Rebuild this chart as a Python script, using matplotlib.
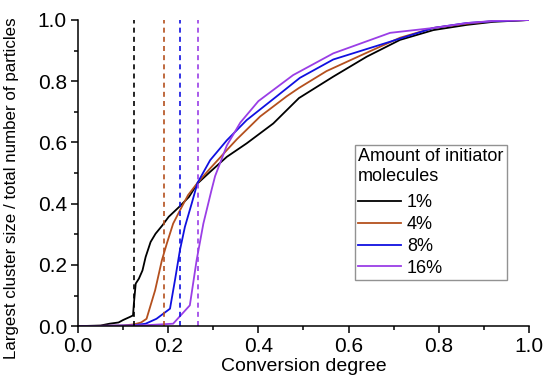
import matplotlib
matplotlib.use('Agg')
import matplotlib.pyplot as plt
from matplotlib.ticker import MultipleLocator

plt.rcParams['font.family'] = ['Liberation Sans', 'DejaVu Sans']

# 1% initiator
x_1 = [0, 0.05, 0.07, 0.09, 0.10, 0.115, 0.122, 0.124, 0.128, 0.135, 0.143, 0.150,
       0.161, 0.172, 0.187, 0.201, 0.224, 0.246, 0.265, 0.293, 0.330, 0.374, 0.433,
       0.49, 0.566, 0.640, 0.714, 0.788, 0.862, 0.921, 1.0]
y_1 = [0, 0.002, 0.008, 0.012, 0.02, 0.03, 0.035, 0.075, 0.139, 0.155, 0.182, 0.226,
       0.275, 0.302, 0.329, 0.357, 0.389, 0.422, 0.466, 0.504, 0.553, 0.597, 0.662,
       0.745, 0.815, 0.880, 0.935, 0.967, 0.984, 0.994, 1.0]

# 4%
x_4 = [0, 0.10, 0.125, 0.14, 0.152, 0.171, 0.186, 0.197, 0.211, 0.226, 0.244, 0.265,
       0.293, 0.330, 0.352, 0.404, 0.463, 0.49, 0.551, 0.640, 0.714, 0.788, 0.862,
       0.921, 1.0]
y_4 = [0, 0.002, 0.006, 0.012, 0.024, 0.117, 0.215, 0.27, 0.335, 0.378, 0.428, 0.468,
       0.515, 0.575, 0.61, 0.685, 0.751, 0.778, 0.833, 0.893, 0.942, 0.974, 0.988,
       0.996, 1.0]

# 8%
x_8 = [0, 0.12, 0.15, 0.174, 0.204, 0.215, 0.226, 0.237, 0.252, 0.265, 0.293, 0.330,
       0.374, 0.44, 0.492, 0.566, 0.692, 0.788, 0.862, 0.921, 1.0]
y_8 = [0, 0.002, 0.008, 0.024, 0.057, 0.15, 0.248, 0.324, 0.40, 0.468, 0.542, 0.607,
       0.673, 0.75, 0.811, 0.871, 0.929, 0.974, 0.99, 0.996, 1.0]

# 16%
x_16 = [0, 0.15, 0.211, 0.248, 0.263, 0.278, 0.296, 0.304, 0.33, 0.36, 0.40, 0.477,
        0.566, 0.692, 0.788, 0.862, 0.921, 1.0]
y_16 = [0, 0.003, 0.008, 0.068, 0.215, 0.335, 0.444, 0.49, 0.59, 0.665, 0.735, 0.82,
        0.891, 0.958, 0.974, 0.99, 0.997, 1.0]

labels = ['1%', '4%', '8%', '16%']
colors = ['black', '#b4501e', '#1010e0', '#9a3ee6']
# gel points (dashed markers)
gel_x = [0.124, 0.19, 0.227, 0.265]

fig = plt.figure(figsize=(5.5, 3.92), dpi=100)
ax = fig.add_axes([0.1418, 0.168, 0.82, 0.781])

series = [(x_1, y_1), (x_4, y_4), (x_8, y_8), (x_16, y_16)]
for (xs, ys), lab, c in zip(series, labels, colors):
    ax.plot(xs, ys, color=c, lw=1.3, label=lab)

for gx, c in zip(gel_x, colors):
    ax.axvline(gx, color=c, lw=1.2, ls=(0, (3, 2.5)))

ax.set_xlim(0, 1)
ax.set_ylim(0, 1)
ax.xaxis.set_major_locator(MultipleLocator(0.2))
ax.xaxis.set_minor_locator(MultipleLocator(0.1))
ax.yaxis.set_major_locator(MultipleLocator(0.2))
ax.yaxis.set_minor_locator(MultipleLocator(0.1))
ax.spines['top'].set_visible(False)
ax.spines['right'].set_visible(False)
for s in ['left', 'bottom']:
    ax.spines[s].set_linewidth(1.1)
ax.tick_params(which='major', direction='out', length=5, width=1.1, labelsize=15, pad=3)
ax.tick_params(which='minor', direction='out', length=3, width=1.1)
ax.set_xlabel('Conversion degree', fontsize=14, labelpad=1)
ax.set_ylabel('Largest cluster size / total number of particles', fontsize=12.2)
ax.yaxis.set_label_coords(-0.131, 0.45)

leg = ax.legend(title='Amount of initiator\nmolecules', loc='upper left',
                bbox_to_anchor=(0.614, 0.592), fontsize=13, title_fontsize=13,
                frameon=True, fancybox=False, handlelength=2.4, handletextpad=0.3,
                labelspacing=0.26, borderpad=0.18, borderaxespad=0, alignment='left')
leg._legend_box.sep = 7  # a bit more room under the title
leg.get_frame().set_edgecolor('#777777')
leg.get_frame().set_linewidth(1.0)

fig.savefig('out.png', dpi=100)
